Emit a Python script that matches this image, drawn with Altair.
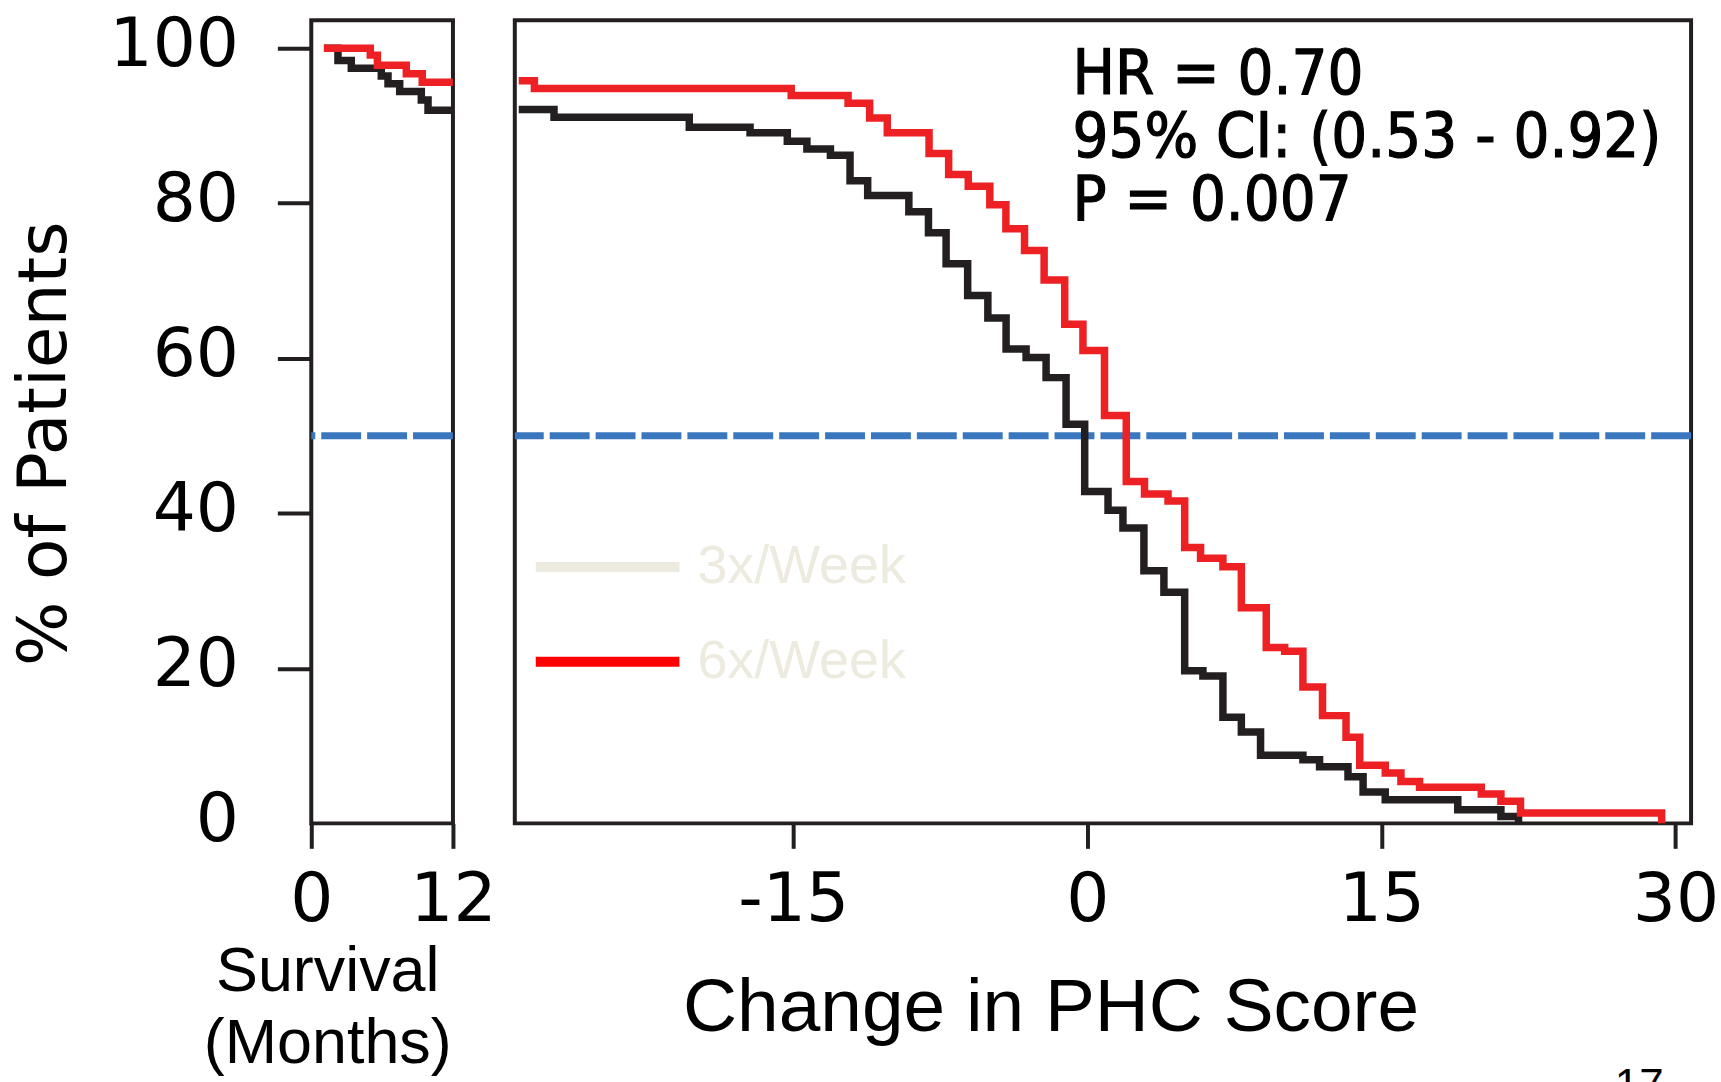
import altair as alt
import pandas as pd

# ---- series: survival panel (months) ----
groups = ["3x/Week", "6x/Week"]

surv_month_3x = [1.07, 2.26, 3.39, 5.93, 6.5, 7.49, 9.32, 9.89, 12.0]
surv_pct_3x = [100.0, 98.4, 97.4, 96.4, 95.4, 94.4, 93.3, 92.0, 92.0]
surv_month_6x = [1.07, 5.0, 5.6, 8.05, 9.4, 12.0]
surv_pct_6x = [100.0, 99.1, 97.8, 96.7, 95.6, 95.6]

# ---- series: change in PHC score ----
phc_change_3x = [-29.0, -27.2, -20.3, -17.2, -15.3, -14.3, -13.1, -12.1, -11.2,
                 -9.1, -8.1, -7.2, -6.1, -5.07, -4.14, -3.12, -2.1, -1.08,
                 -0.13, 1.06, 1.82, 2.89, 3.91, 4.97, 5.9, 6.92, 7.86, 8.84,
                 11.0, 11.85, 13.3, 14.07, 15.2, 18.9, 21.1, 22.0]
phc_pct_3x = [92.1, 91.1, 89.8, 89.1, 88.0, 87.0, 86.2, 82.9, 81.0,
              78.9, 76.2, 72.2, 68.1, 65.2, 61.2, 60.1, 57.5, 51.5,
              42.8, 40.4, 38.1, 32.6, 29.8, 19.7, 19.0, 13.7, 11.8, 8.8,
              8.2, 7.3, 6.0, 4.05, 3.06, 1.77, 0.9, 0.0]

phc_change_6x = [-29.0, -28.2, -15.1, -12.2, -11.1, -10.2, -8.07, -7.07, -6.07,
                 -4.97, -4.15, -3.2, -2.2, -1.15, -0.22, 0.88, 1.99, 2.92,
                 4.12, 4.97, 5.78, 6.92, 7.86, 9.13, 10.07, 11.0, 12.0, 13.2,
                 13.9, 15.2, 16.0, 16.95, 20.1, 21.1, 22.1, 29.3]
phc_pct_6x = [95.8, 94.8, 93.9, 92.9, 91.0, 89.1, 86.4, 83.7, 82.2,
              79.8, 76.7, 73.9, 70.1, 64.4, 61.0, 52.6, 44.1, 42.5,
              41.6, 35.6, 34.2, 33.1, 27.8, 22.7, 22.2, 17.6, 13.9, 11.1,
              7.5, 6.5, 5.4, 4.65, 3.8, 2.85, 1.33, 0.0]

median_line = [50]
y_ticks = [0, 20, 40, 60, 80, 100]
month_ticks = [0, 12]
phc_ticks = [-15, 0, 15, 30]
stats_lines = ["HR = 0.70", "95% CI: (0.53 - 0.92)", "P = 0.007"]
page_number = "17"

INK = "#231F20"
RED = "#ED2024"
BLUE = "#3A77BF"
PALE = "#EDEBE0"
NUM_FONT = "DejaVu Sans"
STAT_FONT = "DejaVu Sans Condensed, DejaVu Sans"
PANEL_H = 805


def frame(xs, ys, group, xname):
    return pd.DataFrame({xname: xs, "pct": ys, "group": group, "order": range(len(xs))})


surv_df = pd.concat([frame(surv_month_3x, surv_pct_3x, groups[0], "month"),
                     frame(surv_month_6x, surv_pct_6x, groups[1], "month")])
phc_df = pd.concat([frame(phc_change_3x, phc_pct_3x, groups[0], "change"),
                    frame(phc_change_6x, phc_pct_6x, groups[1], "change")])
median_df = pd.DataFrame({"pct": median_line})
legend_df = pd.DataFrame({"group": groups})

y_scale = alt.Scale(domain=[0, 103.6], nice=False, zero=False)
curve_color = alt.Color("group:N", scale=alt.Scale(domain=groups, range=[INK, RED]), legend=None)

# tick labels use a plain hyphen for negatives
tick_style = dict(tickColor=INK, tickWidth=4, domain=False, grid=False,
                  labelFont=NUM_FONT, labelFontSize=68, labelFontWeight="normal",
                  labelColor="black", labelFlush=False, labelOverlap=False,
                  labelExpr="'' + datum.value")

y_axis = alt.Axis(values=y_ticks, tickSize=34, labelPadding=39, labelOffset=-3,
                  tickOpacity={"condition": {"test": "datum.value === 0", "value": 0}, "value": 1},
                  title="% of Patients", titleFont="DejaVu Sans", titleFontSize=68,
                  titleFontWeight="normal", titleColor="black", titleAngle=270,
                  titleX=-266, titleY=424, titleAlign="center", titleBaseline="middle",
                  **tick_style)

# ---- left panel: survival in months ----
left_curves = alt.Chart(surv_df).mark_line(
    interpolate="step-after", strokeWidth=7.5, strokeCap="butt", clip=True
).encode(
    x=alt.X("month:Q", scale=alt.Scale(domain=[0, 12], nice=False, zero=False),
            axis=alt.Axis(values=month_ticks, tickSize=25, labelPadding=18,
                          title=["Survival", "(Months)"], titleFont="Liberation Sans",
                          titleFontSize=63, titleFontWeight="normal", titleColor="black",
                          titleX=16, titleY=168, titleAlign="center",
                          titleBaseline="alphabetic", titleLineHeight=72, **tick_style)),
    y=alt.Y("pct:Q", scale=y_scale, axis=y_axis),
    color=curve_color,
    order="order:Q",
)

left_median = alt.Chart(median_df).mark_rule(
    color=BLUE, strokeWidth=7, strokeDash=[40, 6]
).encode(y=alt.Y("pct:Q", scale=y_scale, axis=y_axis))

left = alt.layer(left_median, left_curves).properties(width=142, height=PANEL_H)

# ---- right panel: change in PHC score ----
right_curves = alt.Chart(phc_df).mark_line(
    interpolate="step-after", strokeWidth=7.5, strokeCap="butt", clip=True
).encode(
    x=alt.X("change:Q", scale=alt.Scale(domain=[-29.2, 30.8], nice=False, zero=False),
            axis=alt.Axis(values=phc_ticks, tickSize=25, labelPadding=18,
                          title="Change in PHC Score", titleFont="Liberation Sans",
                          titleFontSize=75, titleFontWeight="normal", titleColor="black",
                          titleX=537, titleY=208, titleAlign="center",
                          titleBaseline="alphabetic", **tick_style)),
    y=alt.Y("pct:Q", scale=y_scale, axis=None),
    color=curve_color,
    order="order:Q",
)

right_median = alt.Chart(median_df).mark_rule(
    color=BLUE, strokeWidth=7, strokeDash=[40, 6]
).encode(y=alt.Y("pct:Q", scale=y_scale, axis=None))

stats_text = alt.Chart(median_df).mark_text(
    text=stats_lines, align="left", baseline="alphabetic", font=STAT_FONT,
    fontSize=63, lineHeight=63, color="black", stroke="black", strokeWidth=1.2
).encode(x=alt.value(559), y=alt.value(74))

legend_y = alt.Y("group:N", scale=alt.Scale(type="point", domain=groups, range=[548, 643], padding=0), axis=None)

legend_swatch = alt.Chart(legend_df).mark_rule(strokeWidth=10, strokeCap="butt").encode(
    x=alt.value(21), x2=alt.value(165), y=legend_y,
    color=alt.Color("group:N", scale=alt.Scale(domain=groups, range=[PALE, "#FF0000"]), legend=None),
)

legend_label = alt.Chart(legend_df).mark_text(
    align="left", baseline="middle", font="Liberation Sans", fontSize=54, color=PALE
).encode(x=alt.value(183), y=legend_y, text="group:N")

page_label = alt.Chart(median_df).mark_text(
    text=page_number, align="center", baseline="alphabetic", font="Liberation Sans",
    fontSize=44, color="black"
).encode(x=alt.value(1127), y=alt.value(1082))

right = alt.layer(
    right_median, right_curves, stats_text, legend_swatch, legend_label, page_label
).resolve_scale(y="independent", color="independent").properties(width=1179, height=PANEL_H)

chart = alt.hconcat(left, right, spacing=62, bounds="flush").properties(
    padding={"left": 10, "top": 7, "right": 0, "bottom": 0},
    background="white",
).configure_view(stroke=INK, strokeWidth=4)

chart.save("out.html", embed_options={"renderer": "svg", "actions": False})
